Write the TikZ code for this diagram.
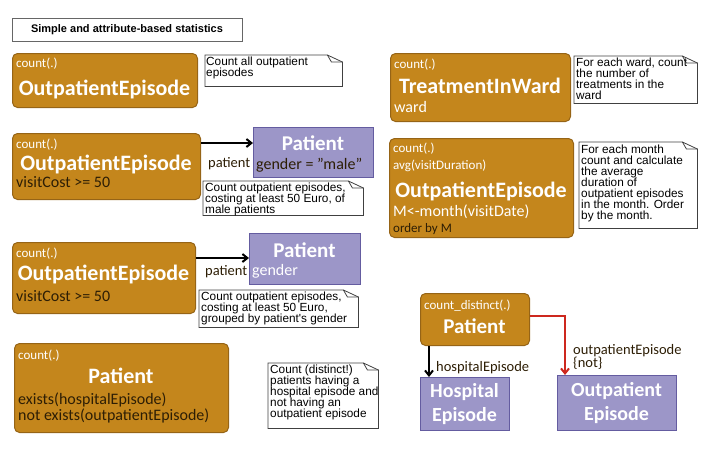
\documentclass[tikz,border=0pt]{standalone}
\usepackage{fontspec}
\setmainfont{Carlito}
\newfontfamily\arialfam{Liberation Sans}
\usetikzlibrary{arrows.meta}

\definecolor{statfill}{RGB}{196,134,28}
\definecolor{statline}{RGB}{150,100,22}
\definecolor{entfill}{RGB}{156,150,200}
\definecolor{entline}{RGB}{100,92,160}
\definecolor{darktxt}{RGB}{45,30,5}
\definecolor{negred}{RGB}{205,40,30}

\newcommand\cntsize{\fontsize{13}{14}\selectfont}
\newcommand\namesize{\fontsize{22}{24}\selectfont\bfseries}
\newcommand\entsize{\fontsize{21}{22}\selectfont\bfseries}
\newcommand\attrsize{\fontsize{16}{18}\selectfont}
\newcommand\rolesize{\fontsize{14.5}{13}\selectfont}
\newcommand\notesize{\arialfam\fontsize{11.8}{11}\selectfont}

% outline of a note with folded corner
\newcommand\notefold[1]{%
  \draw[noteline] (#1.north west) -- ([xshift=-15pt]#1.north east)
    -- ([yshift=-7pt]#1.north east) -- (#1.south east) -- (#1.south west) -- cycle;
  \draw[noteline] ([xshift=-15pt]#1.north east)
    -- ([xshift=-11pt,yshift=-7pt]#1.north east) -- ([yshift=-7pt]#1.north east);}

\tikzset{
  stat/.style={draw=statline, fill=statfill, rounded corners=5pt, line width=1pt,
    anchor=north west, inner sep=0pt},
  ent/.style={draw=entline, fill=entfill, line width=1.2pt, anchor=north west, inner sep=0pt},
  notebox/.style={anchor=north west, inner sep=0pt},
  noteline/.style={draw=black!75, line width=0.8pt},
  cnt/.style={anchor=base west, inner sep=0pt, font=\cntsize, text=white},
  sname/.style={anchor=base, inner sep=0pt, font=\namesize, text=white},
  ename/.style={anchor=base, inner sep=0pt, font=\entsize, text=white},
  attr/.style={anchor=base west, inner sep=0pt, font=\attrsize, text=darktxt},
  wattr/.style={anchor=base west, inner sep=0pt, font=\attrsize, text=white},
  role/.style={anchor=base west, inner sep=0pt, font=\rolesize, text=darktxt},
  notetext/.style={anchor=north west, inner sep=0pt, font=\notesize, align=left},
  arr/.style={line width=2pt, -{Straight Barb[length=5pt,width=8pt]}},
}

\begin{document}
\begin{tikzpicture}[x=1pt,y=-1pt]
 \useasboundingbox (0,0) rectangle (712,464);

 % title
 \node[draw=black!60, line width=1.2pt, anchor=north west, minimum width=230pt, minimum height=23pt] (title) at (12,18) {};
 \node[anchor=base, inner sep=0pt, font=\arialfam\fontsize{11}{12}\selectfont\bfseries] (titletext) at (127,32) {Simple and attribute-based statistics};

 % count all outpatient episodes
 \node[stat, minimum width=185pt, minimum height=54pt] (opAll) at (12,53) {};
 \node[cnt] (opAllCnt) at (16,67) {count(.)};
 \node[sname] (opAllName) at (104.5,95) {OutpatientEpisode};
 \node[notebox, minimum width=137pt, minimum height=31pt] (noteAll) at (205,55) {};
 \notefold{noteAll}
 \node[notetext] (noteAllText) at (206,57) {Count all outpatient\\episodes};

 % male patients
 \node[stat, minimum width=188pt, minimum height=66pt] (opMale) at (12,133) {};
 \node[cnt] (opMaleCnt) at (16,148) {count(.)};
 \node[sname] (opMaleName) at (106,170) {OutpatientEpisode};
 \node[attr] (opMaleCost) at (16,187) {visitCost >= 50};
 \node[ent, minimum width=120pt, minimum height=50pt] (patMale) at (253,127) {};
 \node[ename] (patMaleName) at (313,150) {Patient};
 \node[attr] (patMaleGender) at (256,169) {gender = "male"};
 \draw[arr] ([yshift=-10pt]opMale.north east) -- ([yshift=-10pt]opMale.north east -| patMale.west);
 \node[role] (roleMale) at (208,167) {patient};
 \node[notebox, minimum width=160pt, minimum height=34pt] (noteMale) at (203,181) {};
 \notefold{noteMale}
 \node[notetext] (noteMaleText) at (205,182.5) {Count outpatient episodes,\\costing at least 50 Euro, of\\male patients};

 % grouped by gender
 \node[stat, minimum width=183pt, minimum height=71pt] (opGender) at (12,242) {};
 \node[cnt] (opGenderCnt) at (16,257) {count(.)};
 \node[sname] (opGenderName) at (103.5,280) {OutpatientEpisode};
 \node[attr] (opGenderCost) at (16,301) {visitCost >= 50};
 \node[ent, minimum width=111pt, minimum height=51pt] (patGender) at (249,233) {};
 \node[ename] (patGenderName) at (304.5,257) {Patient};
 \node[wattr] (patGenderAttr) at (252,275) {gender};
 \draw[arr] ([yshift=-16pt]opGender.north east) -- ([yshift=-16pt]opGender.north east -| patGender.west);
 \node[role] (roleGender) at (205,275) {patient};
 \node[notebox, minimum width=159pt, minimum height=37pt] (noteGender) at (199,290) {};
 \notefold{noteGender}
 \node[notetext] (noteGenderText) at (201,291.5) {Count outpatient episodes,\\costing at least 50 Euro,\\grouped by patient's gender};

 % exists / not exists
 \node[stat, minimum width=214pt, minimum height=89pt] (patExists) at (14,343) {};
 \node[cnt] (patExistsCnt) at (18,359) {count(.)};
 \node[sname] (patExistsName) at (121,383) {Patient};
 \node[attr] (patExistsHosp) at (18,404) {exists(hospitalEpisode)};
 \node[attr] (patExistsOut) at (18,420) {not exists(outpatientEpisode)};
 \node[notebox, minimum width=110pt, minimum height=65pt] (noteExists) at (268,363) {};
 \notefold{noteExists}
 \node[notetext] (noteExistsText) at (270,365) {Count (distinct!)\\patients having a\\hospital episode and\\not having an\\outpatient episode};

 % per ward
 \node[stat, minimum width=180pt, minimum height=68pt] (trWard) at (390,53) {};
 \node[cnt] (trWardCnt) at (394,68) {count(.)};
 \node[sname] (trWardName) at (480,93) {TreatmentInWard};
 \node[wattr] (trWardAttr) at (394,112) {ward};
 \node[notebox, minimum width=123pt, minimum height=47pt] (noteWard) at (574,56) {};
 \notefold{noteWard}
 \node[notetext] (noteWardText) at (576,57.5) {For each ward, count\\the number of\\treatments in the\\ward};

 % per month
 \node[stat, minimum width=184pt, minimum height=99pt] (opMonth) at (389,138) {};
 \node[cnt] (opMonthCnt) at (393,152) {count(.)};
 \node[cnt] (opMonthAvg) at (393,169) {avg(visitDuration)};
 \node[sname] (opMonthName) at (481,197) {OutpatientEpisode};
 \node[wattr] (opMonthGroup) at (393,216) {M<-month(visitDate)};
 \node[anchor=base west, inner sep=0pt, font=\fontsize{13}{14}\selectfont, text=darktxt] (opMonthOrder) at (393,232) {order by M};
 \node[notebox, minimum width=118pt, minimum height=86pt] (noteMonth) at (579,142) {};
 \notefold{noteMonth}
 \node[notetext] (noteMonthText) at (581,145) {For each month\\count and calculate\\the average\\duration of\\outpatient episodes\\in the month. Order\\by the month.};

 % count distinct
 \node[stat, minimum width=109pt, minimum height=52pt] (patDist) at (420,293) {};
 \node[cnt] (patDistCnt) at (424,309) {count\_distinct(.)};
 \node[ename] (patDistName) at (474.5,333) {Patient};
 \node[ent, minimum width=89pt, minimum height=53pt] (hospEp) at (420,377) {};
 \node[ename, font=\fontsize{20}{22}\selectfont\bfseries] (hospEpName1) at (464.5,397) {Hospital};
 \node[ename, font=\fontsize{20}{22}\selectfont\bfseries] (hospEpName2) at (464.5,421) {Episode};
 \node[ent, minimum width=119pt, minimum height=55pt] (outEp) at (557,375) {};
 \node[ename, font=\fontsize{20}{22}\selectfont\bfseries] (outEpName1) at (616.5,396) {Outpatient};
 \node[ename, font=\fontsize{20}{22}\selectfont\bfseries] (outEpName2) at (616.5,420) {Episode};
 \draw[arr] ([xshift=9pt]patDist.south west) -- ([xshift=9pt]patDist.south west |- hospEp.north);
 \node[role] (roleHosp) at (436,371) {hospitalEpisode};
 \draw[arr, negred] ([yshift=4pt]patDist.east) -| ([xshift=8pt]outEp.north west);
 \node[role, anchor=north west, align=left] (roleOut) at (573,344) {outpatientEpisode\\\{not\}};
\end{tikzpicture}
\end{document}
